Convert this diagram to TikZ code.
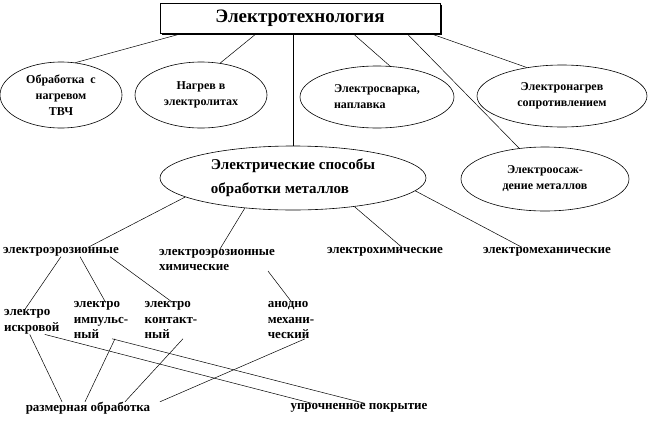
\documentclass[tikz,border=0pt]{standalone}
\usepackage{fontspec}
\setmainfont{Liberation Serif}
\usetikzlibrary{shapes.geometric}
\begin{document}
\begin{tikzpicture}[x=1pt, y=-1pt,
  oval/.style={draw, ellipse, line width=0.6pt, inner sep=0pt, align=center,
    font=\fontsize{12}{16}\selectfont\bfseries},
  lbl/.style={inner sep=0pt, align=left, font=\fontsize{13}{15.5}\selectfont\bfseries},
  link/.style={line width=0.5pt}]
  \useasboundingbox (0,0) rectangle (654,421);

  % верхний блок
  \node[draw, fill=white, line width=0.6pt, minimum width=280pt, minimum height=30pt,
    font=\fontsize{19}{22}\selectfont\bfseries] (tt) at (300,18) {Электротехнология};
  \draw[line width=1.2pt] ([xshift=1pt,yshift=-2pt]tt.north east) |- ([xshift=2pt,yshift=-1pt]tt.south west);

  % первый ряд эллипсов
  \node[oval, minimum width=122pt, minimum height=66pt] (tvch) at (61,95) {Обработка \ с\\нагревом\\ТВЧ};
  \node[oval, minimum width=132pt, minimum height=66pt] (elektrolit) at (201,95) {Нагрев в\\электролитах};
  \node[oval, align=left, minimum width=154pt, minimum height=62pt] (svarka) at (377,97) {Электросварка,\\наплавка};
  \node[oval, minimum width=170pt, minimum height=62pt] (soprot) at (562,96) {Электронагрев\\сопротивлением};
  \node[oval, minimum width=168pt, minimum height=64pt] (osazh) at (545,179) {Электроосаж-\\дение металлов};

  % центральный эллипс
  \node[oval, align=left, minimum width=266pt, minimum height=64pt,
    font=\fontsize{15}{24}\selectfont\bfseries] (sposob) at (293,178) {Электрические способы\\обработки металлов};

  % связи от верхнего блока
  \draw[link] ([xshift=23pt]tt.south west) -- (tvch.66);
  \draw[link] ([xshift=97pt]tt.south west) -- (elektrolit.59);
  \draw[link] (sposob.north |- tt.south) -- (sposob.north);
  \draw[link] ([xshift=193pt]tt.south west) -- (svarka.67);
  \draw[link] ([xshift=247pt]tt.south west) -- (osazh.130);
  \draw[link] ([xshift=270pt]tt.south west) -- (soprot.141);

  % второй уровень
  \node[lbl] (eroz) at (61,252) {электроэрозионные};
  \node[lbl] (erozh) at (217,260) {электроэрозионные\\химические};
  \node[lbl] (chem) at (385,252) {электрохимические};
  \node[lbl] (mech) at (547,252) {электромеханические};

  \draw[link] (sposob.190) -- ([xshift=27pt]eroz.north);
  \draw[link] (sposob.212) -- ([xshift=3pt]erozh.north);
  \draw[link] (sposob.-25) -- ([xshift=17pt]chem.north);
  \draw[link] (sposob.-6) -- ([xshift=-25pt]mech.north);

  % третий уровень
  \node[lbl, anchor=west] (iskr) at (4,322) {электро\\искровой};
  \node[lbl] (impl) at (101,320) {электро\\импульс-\\ный};
  \node[lbl] (kont) at (171,320) {электро\\контакт-\\ный};
  \node[lbl] (anod) at (291,320) {анодно\\механи-\\ческий};

  \draw[link] (eroz.south) -- ([xshift=-7pt]iskr.north);
  \draw[link] ([xshift=19pt]eroz.south) -- ([xshift=4pt]impl.north);
  \draw[link] ([xshift=49pt]eroz.south) -- (kont.north);
  \draw[link] ([xshift=51pt]erozh.south) -- (anod.north);

  % результат обработки
  \node[lbl] (razm) at (88,408) {размерная обработка};
  \node[lbl] (upr) at (359,408) {упрочненное покрытие};

  \draw[link] ([xshift=-2pt]iskr.south) -- ([xshift=-26pt]razm.north);
  \draw[link] ([xshift=13pt]iskr.south) -- ([xshift=-47pt]upr.north);
  \draw[link] ([xshift=14pt]impl.south) -- ([xshift=-3pt]razm.north);
  \draw[link] ([xshift=11pt]impl.south) -- ([xshift=6pt]upr.north);
  \draw[link] ([xshift=12pt]kont.south) -- ([xshift=37pt]razm.north);
  \draw[link] ([xshift=14pt]anod.south) -- ([xshift=72pt]razm.north);
\end{tikzpicture}
\end{document}
